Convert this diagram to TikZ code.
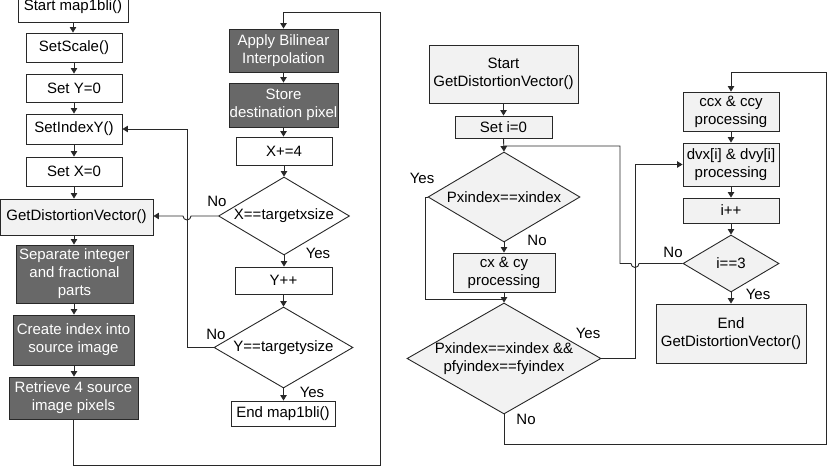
\documentclass[tikz,border=0pt]{standalone}
\usepackage{fontspec}
\setmainfont{Liberation Sans}
\usetikzlibrary{shapes.geometric,arrows.meta}
\definecolor{dk}{RGB}{104,104,104}
\definecolor{lt}{RGB}{242,242,242}
\definecolor{ln}{RGB}{40,40,40}
\begin{document}
\begin{tikzpicture}[x=1pt,y=-1pt,
  txt/.style={font=\fontsize{15}{18}\selectfont},
  box/.style={txt,rectangle,draw=ln,line width=0.9pt,fill=white,inner sep=0pt,align=center},
  dbox/.style={box,fill=dk,text=white},
  lbox/.style={box,fill=lt},
  dia/.style={txt,diamond,draw=ln,line width=0.9pt,fill=white,inner sep=0pt},
  ldia/.style={dia,fill=lt},
  arr/.style={line width=0.9pt,draw=ln,-{Triangle[length=5.5pt,width=6.5pt]}},
  ln/.style={line width=0.9pt,draw=ln},
  lab/.style={txt,inner sep=0pt}]
\useasboundingbox (0,0) rectangle (832,468);
% left column
\node[box,minimum width=110,minimum height=30] (start) at (73,7) {Start map1bli()};
\node[box,minimum width=96,minimum height=29] (setscale) at (74,47.5) {SetScale()};
\node[box,minimum width=96,minimum height=28] (sety) at (74,88) {Set Y=0};
\node[box,minimum width=96,minimum height=30] (setidx) at (74,129) {SetIndexY()};
\node[box,minimum width=96,minimum height=29] (setx) at (74,171.5) {Set X=0};
\node[lbox,minimum width=153,minimum height=36] (gdv) at (76.5,217) {GetDistortionVector()};
\node[dbox,minimum width=117,minimum height=58] (sep) at (74.5,274) {Separate integer\\and fractional\\parts};
\node[dbox,minimum width=121,minimum height=50] (cidx) at (73.5,340) {Create index into\\source image};
\node[dbox,minimum width=129,minimum height=42] (ret) at (73.5,398) {Retrieve 4 source\\image pixels};
% middle column
\node[dbox,minimum width=109,minimum height=43] (apply) at (283.5,50.5) {Apply Bilinear\\Interpolation};
\node[dbox,minimum width=109,minimum height=44] (store) at (283.5,105) {Store\\destination pixel};
\node[box,minimum width=96,minimum height=28] (xp) at (284,151) {X+=4};
\node[dia,minimum width=131,minimum height=78] (d1) at (284,216) {\makebox[0pt]{X==targetxsize}};
\node[box,minimum width=97,minimum height=27] (ypp) at (283.5,280.5) {Y++};
\node[dia,minimum width=139,minimum height=81] (d2) at (283.5,347.5) {\makebox[0pt]{Y==targetysize}};
\node[box,minimum width=104,minimum height=25] (endm) at (283,413.5) {End map1bli()};
% right part
\node[lbox,minimum width=149,minimum height=58] (sgdv) at (503.5,74) {Start\\GetDistortionVector()};
\node[lbox,minimum width=97,minimum height=22] (seti) at (503.5,127) {Set i=0};
\node[ldia,minimum width=152,minimum height=90] (d3) at (504,197) {\makebox[0pt]{Pxindex==xindex}};
\node[lbox,minimum width=102,minimum height=39] (cxcy) at (504,272.5) {cx \& cy\\processing};
\node[ldia,minimum width=194,minimum height=111] (d4) at (504,358.5) {\makebox[0pt]{\begin{tabular}{@{}c@{}}Pxindex==xindex \&\&\\pfyindex==fyindex\end{tabular}}};
\node[lbox,minimum width=96,minimum height=39] (ccx) at (731,111.5) {ccx \& ccy\\processing};
\node[lbox,minimum width=96,minimum height=43] (dvx) at (731,164.5) {dvx[i] \& dvy[i]\\processing};
\node[lbox,minimum width=96,minimum height=25] (ipp) at (731,210.5) {i++};
\node[ldia,minimum width=96,minimum height=57] (d5) at (731,263.5) {\makebox[0pt]{i==3}};
\node[lbox,minimum width=150,minimum height=59] (endg) at (731,333.5) {End\\GetDistortionVector()};
% coordinates
\coordinate (j1) at (504,146);
\coordinate (j2) at (504,299);
% left column arrows
\draw[arr] (start.south) -- (start.south |- setscale.north);
\draw[arr] (setscale.south) -- (setscale.south |- sety.north);
\draw[arr] (sety.south) -- (sety.south |- setidx.north);
\draw[arr] (setidx.south) -- (setidx.south |- setx.north);
\draw[arr] (setx.south) -- (setx.south |- gdv.north);
\draw[arr] (setx.south |- gdv.south) -- (setx.south |- sep.north);
\draw[arr] (setx.south |- sep.south) -- (setx.south |- cidx.north);
\draw[arr] (setx.south |- cidx.south) -- (setx.south |- ret.north);
\draw[arr] (ret.south) -- (73.5,465) -- (380,465) -- (380,12) -- (283.5,12) -- (apply.north);
% middle column
\draw[arr] (apply.south) -- (store.north);
\draw[arr] (store.south) -- (store.south |- xp.north);
\draw[arr] (xp.south) -- (xp.south |- d1.north);
\draw[arr] (d1.south) -- (d1.south |- ypp.north);
\draw[arr] (ypp.south) -- (ypp.south |- d2.north);
\draw[arr] (d2.south) -- (d2.south |- endm.north);
\draw[arr] (d1.west) -- (191,216) arc (0:180:4) -- (gdv.east |- d1.west);
\draw[arr] (d2.west) -- (187,347.5) -- (187,129) -- (setidx.east);
\node[lab] (no1) at (217,201) {No};
\node[lab] (yes1) at (318,253) {Yes};
\node[lab] (no2) at (216,334) {No};
\node[lab] (yes2) at (312,392) {Yes};
% right part arrows
\draw[arr] (sgdv.south) -- (seti.north);
\draw[arr] (seti.south) -- (d3.north);
\draw[arr] (d3.south) -- (cxcy.north);
\draw[arr] (cxcy.south) -- (d4.north);
\draw[ln] (d3.west) -- (425,197) -- (425,299) -- (j2);
\draw[arr] (d4.east) -- (635,358.5) -- (635,164.5) -- (dvx.west);
\draw[arr] (d4.south) -- (504,444) -- (826,444) -- (826,72) -- (731,72) -- (ccx.north);
\draw[arr] (ccx.south) -- (dvx.north);
\draw[arr] (dvx.south) -- (ipp.north);
\draw[arr] (ipp.south) -- (d5.north);
\draw[arr] (d5.south) -- (endg.north);
\draw[ln] (d5.west) -- (639,263.5) arc (0:180:4) -- (620,263.5) -- (620,146) -- (j1);
\node[lab] (yes3) at (422,178) {Yes};
\node[lab] (no3) at (537,240) {No};
\node[lab] (yes4) at (588,333) {Yes};
\node[lab] (no4) at (526,419) {No};
\node[lab] (no5) at (673,252) {No};
\node[lab] (yes5) at (758,294) {Yes};
\end{tikzpicture}
\end{document}
